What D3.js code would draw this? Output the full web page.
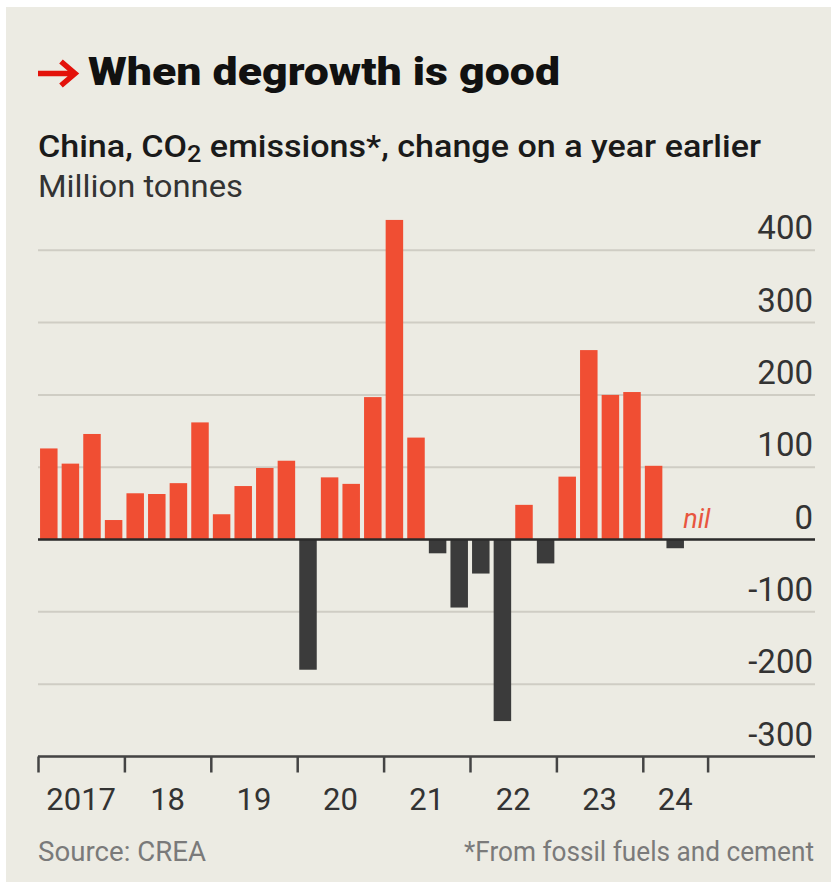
<!DOCTYPE html>
<html>
<head>
<meta charset="utf-8">
<script src="https://cdn.jsdelivr.net/npm/d3@7"></script>
<style>
  body { margin: 0; background: #fff; }
  svg { display: block; font-family: Roboto, "Noto Sans", sans-serif; }
</style>
</head>
<body>
<div id="chart"></div>
<script>
const W = 837, H = 885;

// quarterly change, 2017 Q1 .. 2024 Q3 (million tonnes)
const quarters = ["2017Q1","2017Q2","2017Q3","2017Q4","2018Q1","2018Q2","2018Q3","2018Q4",
  "2019Q1","2019Q2","2019Q3","2019Q4","2020Q1","2020Q2","2020Q3","2020Q4",
  "2021Q1","2021Q2","2021Q3","2021Q4","2022Q1","2022Q2","2022Q3","2022Q4",
  "2023Q1","2023Q2","2023Q3","2023Q4","2024Q1","2024Q2","2024Q3"];
const change = [126, 105, 146, 27, 64, 63, 78, 162,
  35, 74, 99, 109, -180, 86, 77, 197,
  442, 141, -19, -94, -47, -251, 48, -33,
  87, 262, 200, 204, 102, -12, 0];
const yearLabels = ["2017","18","19","20","21","22","23","24"];
const yearStarts = [0, 4, 8, 12, 16, 20, 24, 28, 31]; // quarter index of year boundaries
const yTicks = [-300, -200, -100, 0, 100, 200, 300, 400];

const RED = "#f04e33", DARK = "#3b3b3b";

const svg = d3.select("#chart").append("svg")
    .attr("width", W)
    .attr("height", H);

svg.append("rect")
    .attr("x", 6).attr("y", 7)
    .attr("width", 825).attr("height", 875)
    .attr("fill", "#ecebe3");

const x = d3.scaleBand()
    .domain(quarters)
    .range([38, 707.6])
    .paddingInner(0.19)
    .paddingOuter(0.095);

const xq = d3.scaleLinear()   // quarter index -> px, for year ticks
    .domain([0, quarters.length])
    .range([38, 707.6]);

const y = d3.scaleLinear()
    .domain([-300, 400])
    .range([756.5, 250.3]);

// gridlines
svg.append("g")
    .selectAll("line")
    .data(yTicks)
    .join("line")
    .attr("x1", 38).attr("x2", 815)
    .attr("y1", d => y(d)).attr("y2", d => y(d))
    .attr("stroke", "#cfcdc4")
    .attr("stroke-width", 2);

// y labels
svg.append("g")
    .selectAll("text")
    .data(yTicks)
    .join("text")
    .attr("x", 813)
    .attr("y", d => y(d) - 11)
    .attr("text-anchor", "end")
    .attr("font-size", 33)
    .attr("fill", "#333")
    .text(d => d);

// bars
svg.append("g")
    .selectAll("rect")
    .data(change.map((v, i) => ({q: quarters[i], v: v})).filter(d => d.v !== 0))
    .join("rect")
    .attr("x", d => x(d.q))
    .attr("width", x.bandwidth())
    .attr("y", d => y(Math.max(0, d.v)))
    .attr("height", d => Math.abs(y(d.v) - y(0)))
    .attr("fill", d => d.v > 0 ? RED : DARK);

// zero line
svg.append("line")
    .attr("x1", 38).attr("x2", 815)
    .attr("y1", y(0)).attr("y2", y(0))
    .attr("stroke", "#2b2b2b")
    .attr("stroke-width", 2.5);

// nil marker
svg.append("text")
    .attr("x", x("2024Q3") + x.bandwidth() / 2)
    .attr("y", y(0) - 12)
    .attr("text-anchor", "middle")
    .attr("font-size", 27)
    .attr("font-style", "italic")
    .attr("fill", "#e8553f")
    .text("nil");

// x axis
svg.append("line")
    .attr("x1", 38).attr("x2", 815)
    .attr("y1", y(-300)).attr("y2", y(-300))
    .attr("stroke", "#444")
    .attr("stroke-width", 2.5);

const xAxis = d3.axisBottom(xq)
    .tickValues(yearStarts)
    .tickSize(16)
    .tickFormat("");

const gx = svg.append("g")
    .attr("transform", `translate(0,${y(-300)})`)
    .call(xAxis);
gx.select(".domain").remove();
gx.selectAll(".tick line").attr("stroke", "#444").attr("stroke-width", 2.5);

svg.append("g")
    .selectAll("text")
    .data(yearLabels)
    .join("text")
    .attr("x", (d, i) => (xq(yearStarts[i]) + xq(yearStarts[i + 1])) / 2)
    .attr("y", 810)
    .attr("text-anchor", "middle")
    .attr("font-size", 31)
    .attr("fill", "#333")
    .text(d => d);

// title block
svg.append("path")
    .attr("d", "M38,73.5H74M61,61.5L75,73.5L61,85.5")
    .attr("fill", "none")
    .attr("stroke", "#e3120b")
    .attr("stroke-width", 5.5);

svg.append("text")
    .attr("x", 88).attr("y", 85)
    .attr("font-size", 38)
    .attr("font-weight", 900)
    .attr("fill", "#111")
    .attr("textLength", 472)
    .attr("lengthAdjust", "spacingAndGlyphs")
    .text("When degrowth is good");

const sub = svg.append("text")
    .attr("x", 38).attr("y", 157)
    .attr("font-size", 31)
    .attr("font-weight", 500)
    .attr("fill", "#1a1a1a")
    .attr("textLength", 723)
    .attr("lengthAdjust", "spacingAndGlyphs");
sub.append("tspan").text("China, CO");
sub.append("tspan").attr("font-size", 23).attr("dy", 5).text("2");
sub.append("tspan").attr("dy", -5).text(" emissions*, change on a year earlier");

svg.append("text")
    .attr("x", 38).attr("y", 197)
    .attr("font-size", 31)
    .attr("fill", "#333")
    .attr("textLength", 205)
    .attr("lengthAdjust", "spacingAndGlyphs")
    .text("Million tonnes");

// footer
svg.append("text")
    .attr("x", 38).attr("y", 861)
    .attr("font-size", 27)
    .attr("fill", "#7a7a7a")
    .attr("textLength", 168)
    .attr("lengthAdjust", "spacingAndGlyphs")
    .text("Source: CREA");

svg.append("text")
    .attr("x", 814).attr("y", 861)
    .attr("text-anchor", "end")
    .attr("font-size", 27)
    .attr("fill", "#7a7a7a")
    .attr("textLength", 350)
    .attr("lengthAdjust", "spacingAndGlyphs")
    .text("*From fossil fuels and cement");
</script>
</body>
</html>
